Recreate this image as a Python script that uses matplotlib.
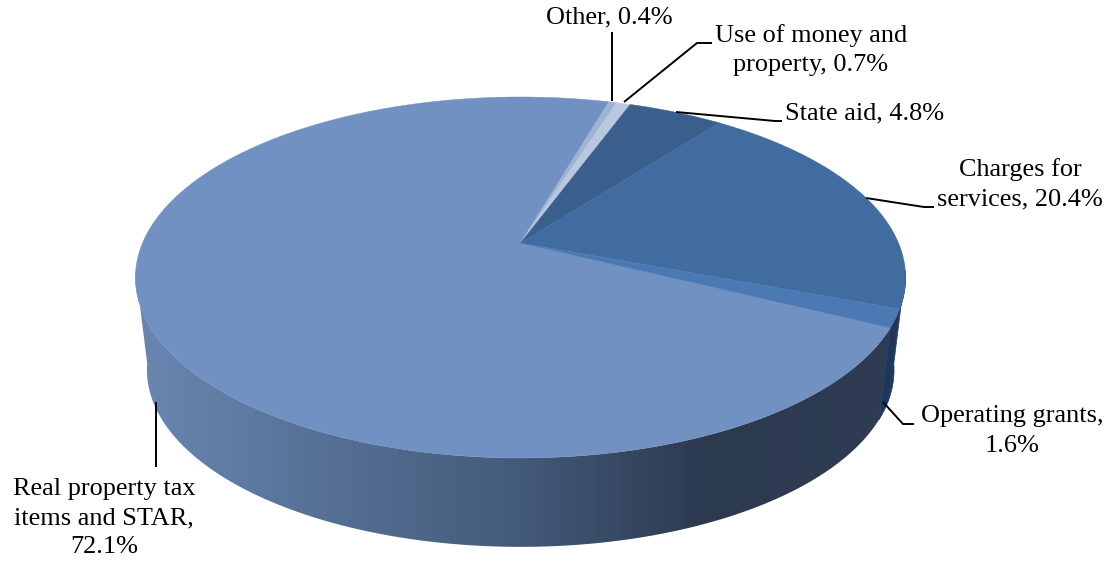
import numpy as np
import matplotlib
matplotlib.use("Agg")
import matplotlib.pyplot as plt
from matplotlib.colors import LinearSegmentedColormap
from matplotlib.patches import Polygon

plt.rcParams['font.family'] = ['Liberation Serif', 'DejaVu Serif']

# clockwise from the boundary at the lower right
categories = ["Real property tax\nitems and STAR,\n", "Other, ", "Use of money and\nproperty, ",
              "State aid, ", "Charges for\nservices, ", "Operating grants,\n"]
shares = [72.1, 0.4, 0.7, 4.8, 20.4, 1.6]
top_colors = ["#7091c2", "#9fb3d5", "#bac8df", "#3a5f8d", "#416c9f", "#4a79b3"]

START_ANGLE = -26.5
CX, APEX_Y = 520.5, 243.0
C, B, D = 0.191, -127.5, 378.0
TOP_MID_Y, WALL_MID_Y = 277.5, 370.0


def project(theta):
    # perspective view of the unit circle, in pixels
    x, y = np.cos(np.radians(theta)), np.sin(np.radians(theta))
    w = 1 + C * y
    return CX + D * x / w, (APEX_Y + B * y) / w


def project_low(theta):
    # rim of the bottom face, a bit smaller and further down
    x, y = project(theta)
    return CX + (x - CX) * 0.97, WALL_MID_Y + (y - TOP_MID_Y) * 0.98


fig = plt.figure(figsize=(11.18, 5.64), dpi=100)
ax = fig.add_axes([0, 0, 1, 1])

edges = START_ANGLE - np.cumsum([0] + shares) * 3.6

# side wall
th = np.linspace(-171, START_ANGLE, 200)
xt, yt = project(th)
xb, yb = project_low(th)
wall = Polygon(np.column_stack([np.r_[xt, xb[::-1]], np.r_[yt, yb[::-1]]]),
               transform=ax.transData, closed=True, fc='none', ec='none')
ax.add_patch(wall)
cmap = LinearSegmentedColormap.from_list(
    "wall", [(0, "#6a87b3"), (0.21, "#587499"), (0.5, "#445a7a"), (0.74, "#2c3a50"), (1, "#2f3c53")])
im = ax.imshow(np.linspace(0, 1, 256)[None, :], cmap=cmap, aspect='auto',
               extent=[135, 905, 560, 90], zorder=1)
im.set_clip_path(wall)

for a, b, c in [(START_ANGLE, -20.8, "#1e3658"), (-20.8, -9, "#1f3a5f")]:
    th = np.linspace(a, b, 40)
    xt, yt = project(th)
    xb, yb = project_low(th)
    ax.fill(np.r_[xt, xb[::-1]], np.r_[yt, yb[::-1]], color=c, lw=0.5, zorder=2)

# top face
for i in range(len(shares)):
    th = np.linspace(edges[i], edges[i + 1], 300)
    x, y = project(th)
    ax.fill(np.r_[CX, x], np.r_[APEX_Y, y], fc=top_colors[i], ec=top_colors[i], lw=0.3, zorder=3)

# leader lines
leaders = [([156, 156], [402, 467]),
           ([612, 612], [32, 101]),
           ([624, 697, 712], [102, 43, 43]),
           ([676, 775, 782], [112, 121, 121]),
           ([866, 924, 934], [198, 207, 207]),
           ([883, 903, 914], [402, 424, 424])]
for lx, ly in leaders:
    ax.plot(lx, ly, color='black', lw=1.4, zorder=4, solid_capstyle='butt')

label_pos = [(104, 518), (609, 17), (811, 50), (865, 113), (1020, 184), (1012, 431)]
for name, val, (tx, ty) in zip(categories, shares, label_pos):
    ax.text(tx, ty, f"{name}{val}%", ha='center', va='center', fontsize=18.9, linespacing=1.42)

ax.set_xlim(0, 1118)
ax.set_ylim(564, 0)
ax.axis('off')
fig.savefig("out.png", dpi=100)
